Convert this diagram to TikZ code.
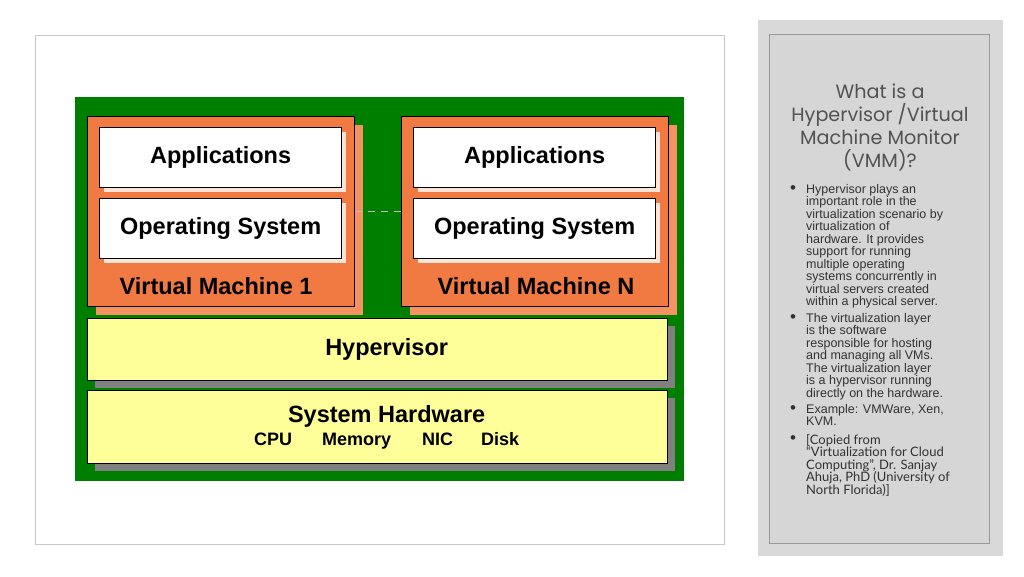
\documentclass[tikz,border=0pt]{standalone}
\usepackage{fontspec}
\setmainfont{Liberation Sans}
\newfontfamily\titlefont{Poppins}
\newfontfamily\notefont{Lato}
\usetikzlibrary{shadows,positioning}
\definecolor{vmorange}{RGB}{240,122,66}
\definecolor{vmshade}{RGB}{246,146,98}
\definecolor{boardgreen}{RGB}{0,126,0}
\definecolor{layeryellow}{RGB}{255,255,153}
\definecolor{panelgray}{RGB}{217,217,217}
\definecolor{notegray}{RGB}{50,50,50}
\tikzset{>=latex}
\tikzset{
  vmbox/.style={draw=black,line width=1.3pt,fill=vmorange,anchor=north west,inner sep=0pt,
    minimum width=267pt,minimum height=190pt,
    drop shadow={shadow xshift=8pt,shadow yshift=-8pt,fill=vmshade,opacity=1}},
  swbox/.style={draw=black,line width=1.3pt,fill=white,anchor=north west,inner sep=0pt,
    minimum width=242pt,minimum height=60pt,font=\fontsize{23.5}{28}\selectfont\bfseries,
    drop shadow={shadow xshift=4pt,shadow yshift=-4pt,fill=white!80!vmorange,opacity=1}},
  layerbox/.style={draw=black,line width=1.3pt,fill=layeryellow,anchor=north west,inner sep=0pt,
    minimum width=580pt,font=\fontsize{23.5}{28}\selectfont\bfseries,align=center,
    drop shadow={shadow xshift=7pt,shadow yshift=-7pt,fill=gray,opacity=1}},
  vmlabel/.style={font=\fontsize{23.5}{28}\selectfont\bfseries},
  notetext/.style={anchor=north west,inner sep=0pt,align=left,text=notegray,
    font=\fontsize{12.5}{12.5}\selectfont},
  dotmark/.style={inner sep=0pt,anchor=base,text=notegray,font=\fontsize{17}{17}\selectfont}
}

\begin{document}
\begin{tikzpicture}[x=1pt,y=-1pt]
  \useasboundingbox[fill=white] (0,0) rectangle (1024,576);
  % Panels
  \draw[draw=black!22,fill=white] (35,35) rectangle (724,544);
  \fill[panelgray] (758,20) rectangle (1003,556);
  \draw[draw=black!40,fill=black!16] (769,34) rectangle (989,543);
  \fill[boardgreen] (75,97) rectangle (684,481);

  % Virtual machines
  \node[vmbox] (vm1) at (87,116) {};
  \node[vmbox] (vmN) at (401,116) {};
  \node[swbox] (app1) at (99,127) {Applications};
  \node[swbox] (os1) at (99,198) {Operating System};
  \node[swbox] (appN) at (413,127) {Applications};
  \node[swbox] (osN) at (413,198) {Operating System};
  \node[vmlabel] (vm1lbl) at (216,286) {Virtual Machine 1};
  \node[vmlabel] (vmNlbl) at (536,286) {Virtual Machine N};
  \draw[black!25,line width=1.3pt,dash pattern=on 7pt off 6pt] (vm1.east) -- (vmN.west);

  % Layers
  \node[layerbox,minimum height=62pt] (hyp) at (87,318) {\hspace*{18pt}Hypervisor};
  \node[layerbox,minimum height=73pt] (hw) at (87,390)
    {\hspace*{18pt}System Hardware\\[-5pt]
     \fontsize{18}{20}\selectfont\hspace*{18pt}CPU\hspace{30pt}Memory\hspace{31pt}NIC\hspace{28pt}Disk};

  % Notes
  \node[anchor=north,align=center,text=black!68,inner sep=0pt,
    font=\titlefont\fontsize{19.2}{23}\selectfont] (title) at (880,84)
    {What is a\\Hypervisor /Virtual\\Machine Monitor\\(VMM)?};
  \node[notetext] (note1) at (806,184) {Hypervisor plays an\\important role in the\\virtualization scenario by\\virtualization of\\hardware. It provides\\support for running\\multiple operating\\systems concurrently in\\virtual servers created\\within a physical server.};
  \node[notetext] (note2) at (806,313) {The virtualization layer\\is the software\\responsible for hosting\\and managing all VMs.\\The virtualization layer\\is a hypervisor running\\directly on the hardware.};
  \node[notetext] (note3) at (806,404) {Example: VMWare, Xen,\\KVM.};
  \node[notetext,font=\notefont\fontsize{13}{12.5}\selectfont] (note4) at (806,434) {[Copied from\\“Virtualization for Cloud\\Computing”, Dr. Sanjay\\Ahuja, PhD (University of\\North Florida)]};
  \foreach \n in {1,...,4}
    \node[dotmark] (dot\n) at ([xshift=-13pt,yshift=-9pt]note\n.north west) {•};
\end{tikzpicture}
\end{document}
